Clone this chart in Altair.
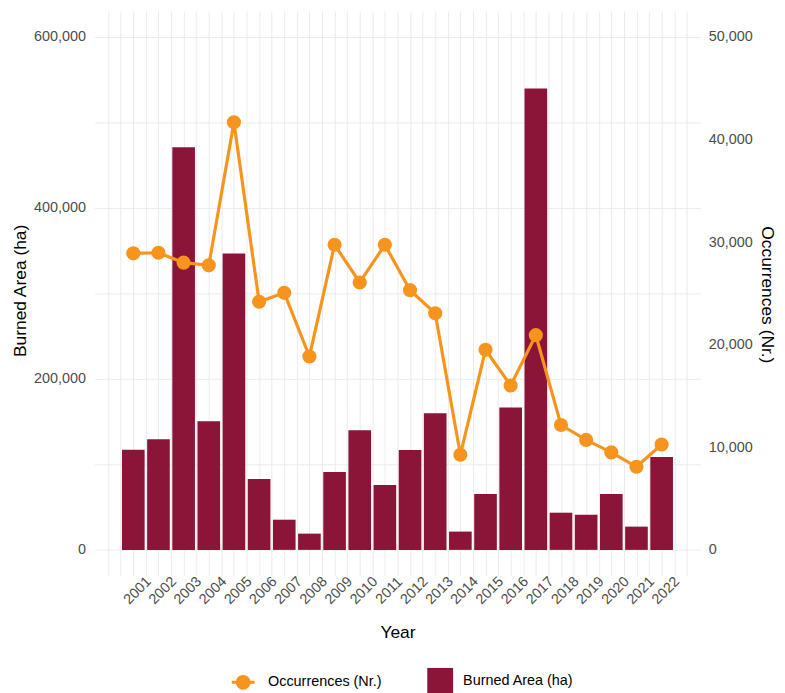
import altair as alt
import pandas as pd

# ---- data ----
years = list(range(2001, 2023))
burned_area = [117000, 129400, 471000, 150400, 346700, 83000, 35300, 19000,
               91100, 139900, 76000, 116700, 159700, 21400, 65500, 166600,
               539600, 43500, 41100, 65500, 27200, 108500]
occurrences = [28900, 28960, 27990, 27730, 41680, 24180, 25050, 18850,
               29740, 26060, 29740, 25310, 23060, 9270, 19500, 16020,
               20930, 12170, 10720, 9500, 8100, 10270]

area_label = "Burned Area (ha)"
occ_label = "Occurrences (Nr.)"

left_ticks = [0, 100000, 200000, 300000, 400000, 500000, 600000]
right_ticks = [0, 10000, 20000, 30000, 40000, 50000]
x_grid = [2000 + 0.5 * i for i in range(47)]

df = pd.DataFrame({"Year": years, "area": burned_area, "occ": occurrences})

FONT = "Liberation Sans"
MAROON = "#8B1538"
ORANGE = "#F7941D"
GRID = "#EBEBEB"
LABEL = "#4D4D4D"

x_scale = alt.Scale(domain=[1999.455, 2023.545], nice=False, zero=False)
x_axis = alt.Axis(
    values=x_grid,
    labelExpr="(datum.value % 1 == 0 && datum.value >= 2001 && datum.value <= 2022) ? '' + datum.value : ''",
    labelAngle=-45, labelAlign="center", labelBaseline="middle",
    labelPadding=15, labelOffset=4, labelOverlap=False, labelFlush=False,
    labelFontSize=14.5, labelColor=LABEL, labelFont=FONT,
    ticks=False, domain=False, grid=True, gridColor=GRID, gridWidth=1,
    title="Year", titleFont=FONT, titleFontSize=17.5, titleFontWeight="normal",
    titleColor="black", titleX=305, titleY=62, titleBaseline="alphabetic",
)

y_left = alt.Axis(
    values=left_ticks,
    labelExpr="datum.value % 200000 == 0 ? format(datum.value, ',') : ''",
    labelFontSize=14.5, labelColor=LABEL, labelFont=FONT, labelPadding=9,
    ticks=False, domain=False, grid=True, gridColor=GRID, gridWidth=1,
    title=area_label, titleFont=FONT, titleFontSize=17.5, titleFontWeight="normal",
    titleColor="black", titleX=-69, titleY=281, titleBaseline="alphabetic",
    titleAngle=-90,
)

y_right = alt.Axis(
    values=right_ticks, labelExpr="format(datum.value, ',')", orient="right",
    labelFontSize=14.5, labelColor=LABEL, labelFont=FONT, labelPadding=7.7,
    ticks=False, domain=False, grid=False,
    title=occ_label, titleFont=FONT, titleFontSize=17.5, titleFontWeight="normal",
    titleColor="black", titleX=61, titleY=285, titleBaseline="alphabetic",
    titleAngle=90,
)

bars = alt.Chart(df).transform_calculate(
    x0="datum.Year - 0.45", x1="datum.Year + 0.45", series=f"'{area_label}'"
).mark_rect(color=MAROON).encode(
    x=alt.X("x0:Q", scale=x_scale, axis=x_axis),
    x2="x1:Q",
    y=alt.Y("area:Q", scale=alt.Scale(domain=[-30000, 630000], nice=False, zero=False), axis=y_left),
    y2=alt.Y2(datum=0),
    color=alt.Color(
        "series:N",
        scale=alt.Scale(domain=[area_label], range=[MAROON]),
        legend=alt.Legend(
            title=None, orient="none", legendX=335, legendY=661,
            symbolType="square", symbolSize=676, symbolStrokeWidth=0,
            labelOffset=10, labelFontSize=14.5, labelColor="black", labelFont=FONT,
            padding=0,
        ),
    ),
)

line = alt.Chart(df).transform_calculate(
    series2=f"'{occ_label}'"
).mark_line(
    strokeWidth=3.2,
    point=alt.OverlayMarkDef(filled=True, size=150, color=ORANGE, opacity=1),
).encode(
    x=alt.X("Year:Q", scale=x_scale, axis=x_axis),
    y=alt.Y("occ:Q", scale=alt.Scale(domain=[-2500, 52500], nice=False, zero=False), axis=y_right),
    stroke=alt.Stroke(
        "series2:N",
        scale=alt.Scale(domain=[occ_label], range=[ORANGE]),
        legend=alt.Legend(
            title=None, orient="none", legendX=136.7, legendY=662.5,
            symbolType="M-1,0L1,0M-0.52,0A0.52,0.52,0,1,1,0.52,0A0.52,0.52,0,1,1,-0.52,0Z",
            symbolSize=529, symbolStrokeWidth=3, symbolFillColor=ORANGE,
            symbolStrokeColor=ORANGE,
            labelOffset=12, labelFontSize=14.5, labelColor="black", labelFont=FONT,
            padding=0,
        ),
    ),
)

chart = alt.layer(bars, line).resolve_scale(
    y="independent"
).properties(
    width=610, height=568,
    autosize=alt.AutoSizeParams(type="none"),
    padding={"left": 87, "top": 1, "right": 77, "bottom": 116},
    background="white",
).configure_view(stroke=None)

chart.save("out.html", embed_options={"renderer": "svg", "actions": False})
